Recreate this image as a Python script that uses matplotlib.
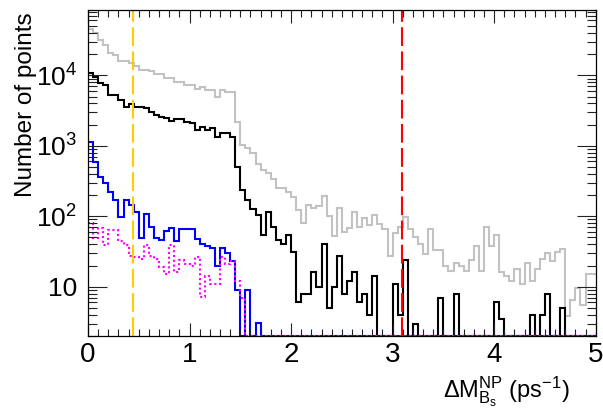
import numpy as np
import matplotlib
matplotlib.use('Agg')
import matplotlib.pyplot as plt
from matplotlib.ticker import FixedLocator, FuncFormatter, LogLocator, MultipleLocator, NullFormatter

plt.rcParams['font.family'] = ['Liberation Sans', 'DejaVu Sans']
plt.rcParams['mathtext.fontset'] = 'custom'
plt.rcParams['mathtext.rm'] = 'Liberation Sans'
plt.rcParams['mathtext.it'] = 'Liberation Sans:italic'
plt.rcParams['mathtext.bf'] = 'Liberation Sans:bold'
plt.rcParams['mathtext.default'] = 'rm'

# ---- data: 100 bins of width 0.05 on [0, 5] ----
bin_edges = np.linspace(0.0, 5.0, 101)

grey_counts = [
    44900, 40000, 31700, 26900, 20500, 19400, 15900, 15900, 15100, 13600,
    11900, 11900, 11500, 10400, 10400, 9050, 9050, 8130, 8130, 7280,
    7280, 6320, 6750, 6180, 6180, 4900, 6200, 5750, 5750, 2200,
    1030, 920, 780, 546, 454, 407, 338, 255, 255, 223,
    190, 122, 80, 145, 131, 140, 195, 100, 53, 133,
    60, 68, 115, 70, 96, 75, 105, 78, 67, 27,
    57, 70, 99, 66, 51, 41, 29, 66, 33, 33,
    20, 17, 22, 20, 17, 24, 38, 17, 71, 38,
    54, 16, 14, 12, 18, 11, 22, 12, 18, 25,
    30, 23, 31, 34, 3.8, 6.5, 9.5, 5.5, 15, 15,
]

black_counts = [
    10900, 9600, 7900, 7200, 5200, 5200, 4500, 3500, 3900, 3600,
    3500, 3400, 3000, 2700, 2600, 2500, 2250, 2400, 2400, 2150,
    2100, 1650, 1820, 1680, 1800, 1350, 1520, 1500, 1320, 495,
    235, 170, 125, 104, 55, 116, 71, 46, 40, 54,
    31, 6, 8, 8, 16, 10, 40, 5, 10, 27,
    8, 12, 16, 6, 8, 4, 14, 0, 0, 0,
    11, 4, 24, 0, 3, 0, 0, 0, 0, 7,
    0, 0, 8, 0, 0, 0, 0, 0, 0, 0,
    6, 3.5, 0, 0, 0, 0, 0, 4, 0, 4,
    8, 0, 0, 5, 0, 0, 0, 0, 0, 0,
]

blue_counts = [
    1140, 595, 365, 300, 219, 170, 99, 170, 145, 116,
    49, 108, 71, 49, 46, 61, 69, 45, 67, 65,
    65, 47, 40, 38, 36, 20, 35, 30, 23, 9,
    0, 9, 0, 3.1, 0, 0, 0, 0, 0, 0,
] + [0] * 60

magenta_counts = [
    79, 49, 68, 39, 63, 63, 45, 39, 27, 26,
    25, 39, 27, 25, 19, 15, 39, 16, 24, 21,
    19.5, 26, 7.2, 14, 11, 11, 26, 21, 23, 12,
    7, 0, 0, 0, 0, 0, 0, 0, 0, 0,
] + [0] * 60

yellow_line_x = 0.44
red_line_x = 3.09

x_ticks = [0, 1, 2, 3, 4, 5]
y_ticks = [10, 100, 1000, 10000]

# ---- figure ----
W, H = 603, 408
fig = plt.figure(figsize=(W / 100, H / 100), dpi=100)
ax = fig.add_axes([88 / W, 1 - 336 / H, (595.7 - 88) / W, (336 - 10) / H])

ymin, ymax = 2.0, 84500.0
series = [
    (grey_counts, '#c2c2c2', '-'),
    (black_counts, 'black', '-'),
    (blue_counts, '#0000ff', '-'),
    (magenta_counts, '#ff00ff', (0, (1.0, 1.3))),
]
for vals, col, ls in series:
    v = np.maximum(np.asarray(vals, dtype=float), ymin)
    ax.stairs(v, bin_edges, baseline=None, color=col, lw=1.5, ls=ls)

ax.axvline(yellow_line_x, color='#ffcc00', lw=1.5, dashes=(9, 2.6))
ax.axvline(red_line_x, color='#ff0000', lw=1.5, dashes=(9, 2.6))

ax.set_yscale('log')
ax.set_xlim(0, 5)
ax.set_ylim(ymin, ymax)

ax.xaxis.set_major_locator(FixedLocator(x_ticks))
ax.xaxis.set_minor_locator(MultipleLocator(0.1))
ax.yaxis.set_major_locator(FixedLocator(y_ticks))
ax.yaxis.set_minor_locator(LogLocator(base=10, subs=np.arange(2, 10)))
ax.yaxis.set_minor_formatter(NullFormatter())


def yfmt(v, pos):
    e = int(round(np.log10(v)))
    return '10' if e == 1 else r'$10^{%d}$' % e


ax.yaxis.set_major_formatter(FuncFormatter(yfmt))
ax.xaxis.set_major_formatter(FuncFormatter(lambda v, p: '%d' % v))

ax.tick_params(which='both', direction='in', top=True, right=True, color='#222222', width=0.8)
ax.tick_params(axis='x', which='major', length=9.5, labelsize=20, pad=4)
ax.tick_params(axis='x', which='minor', length=4.8)
ax.tick_params(axis='y', which='major', length=14, labelsize=19, pad=8)
ax.tick_params(axis='y', which='minor', length=6.5)
for s in ax.spines.values():
    s.set_linewidth(0.9)

fig.text(570 / W, 1 - 398 / H, r'$\Delta$M$^{\mathrm{NP}}_{\mathrm{B_s}}$ (ps$^{\mathrm{-1}}$)',
         ha='right', va='baseline', fontsize=17)
fig.text(26 / W, 1 - 12 / H, 'Number of points', rotation=90,
         ha='center', va='top', fontsize=17.5)

fig.savefig('out.png', dpi=100)
